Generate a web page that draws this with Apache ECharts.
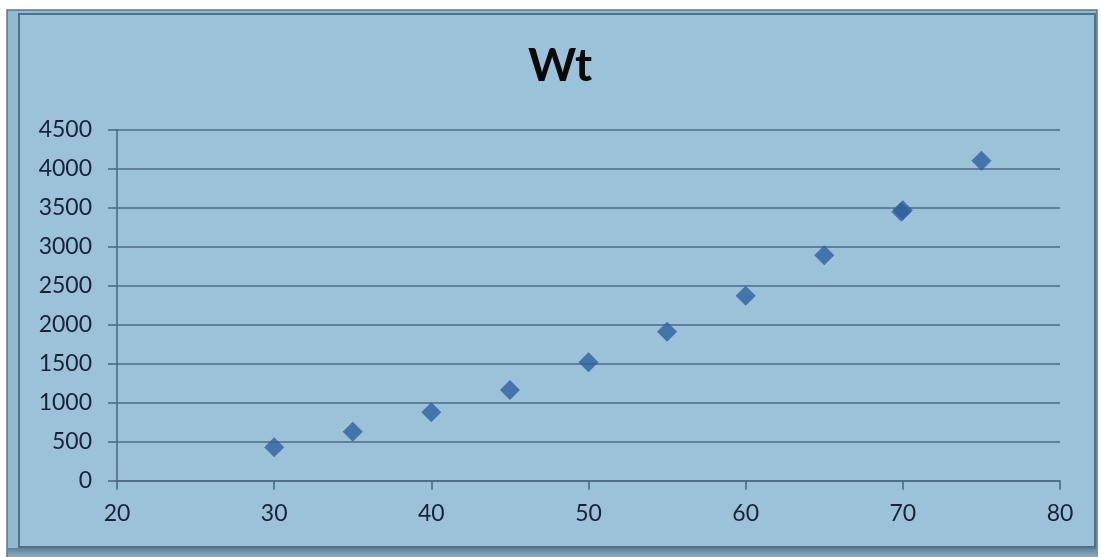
<!DOCTYPE html>
<html>
<head>
<meta charset="utf-8">
<style>
  html, body { margin: 0; padding: 0; background: #ffffff; }
  #chart { width: 1101px; height: 557px; }
</style>
<script src="https://cdn.jsdelivr.net/npm/echarts@6/dist/echarts.min.js"></script>
</head>
<body>
<div id="chart"></div>
<script>
// Length vs. weight measurements
const lengths = [30, 35, 40, 45, 50, 55, 60, 65, 69.9, 70, 75];
const weights = [430, 628, 877, 1163, 1518, 1910, 2372, 2890, 3448, 3466, 4103];

const xTicks = { min: 20, max: 80, step: 10 };
const yTicks = { min: 0, max: 4500, step: 500 };

const chartTitle = 'Wt';

const points = lengths.map((x, i) => [x, weights[i]]);

const lineColor = '#4A6B83';
const textColor = '#18223A';
const fontFamily = 'Lato, "Liberation Sans", Arial, sans-serif';

const chart = echarts.init(document.getElementById('chart'), null, { renderer: 'canvas' });

chart.setOption({
  backgroundColor: '#ffffff',
  animation: false,
  graphic: [
    {
      type: 'rect', z: -10,
      shape: { x: 7, y: 10, width: 1090, height: 547 },
      style: { fill: '#93B9D2', stroke: '#56778F', lineWidth: 1.5 }
    },
    {
      type: 'rect', z: -9,
      shape: { x: 19, y: 14, width: 1076, height: 533 },
      style: { fill: '#9CC2DA', stroke: '#4F7189', lineWidth: 2 }
    },
    {
      type: 'rect', z: -9,
      shape: { x: 8, y: 548, width: 1089, height: 9 },
      style: {
        fill: new echarts.graphic.LinearGradient(0, 0, 0, 1, [
          { offset: 0, color: '#5F8099' },
          { offset: 1, color: '#8FAEC4' }
        ])
      }
    },
    {
      type: 'text', z: 10,
      x: 560,
      y: 66,
      style: {
        text: chartTitle,
        align: 'center',
        verticalAlign: 'middle',
        fontFamily: fontFamily,
        fontWeight: 'bold',
        fontSize: 46,
        fill: '#0A0A0A'
      }
    }
  ],
  grid: {
    left: 117,
    right: 41,
    top: 129.7,
    bottom: 76.3,
    containLabel: false
  },
  xAxis: {
    type: 'value',
    min: xTicks.min,
    max: xTicks.max,
    interval: xTicks.step,
    axisLine: { show: true, lineStyle: { color: lineColor, width: 1.6 } },
    axisTick: { show: true, inside: false, length: 9, lineStyle: { color: lineColor, width: 1.6 } },
    splitLine: { show: false },
    axisLabel: {
      margin: 21,
      color: textColor,
      fontFamily: fontFamily,
      fontSize: 23
    }
  },
  yAxis: {
    type: 'value',
    min: yTicks.min,
    max: yTicks.max,
    interval: yTicks.step,
    axisLine: { show: true, lineStyle: { color: lineColor, width: 1.6 } },
    axisTick: { show: true, inside: false, length: 9, lineStyle: { color: lineColor, width: 1.6 } },
    splitLine: { show: true, lineStyle: { color: lineColor, width: 1.6 } },
    axisLabel: {
      margin: 25,
      color: textColor,
      fontFamily: fontFamily,
      fontSize: 23,
      formatter: (v) => String(v)
    }
  },
  series: [
    {
      name: chartTitle,
      type: 'scatter',
      data: points,
      symbol: 'diamond',
      symbolSize: 20,
      itemStyle: { color: '#2F5F9F' },
      z: 5
    }
  ]
});
</script>
</body>
</html>
